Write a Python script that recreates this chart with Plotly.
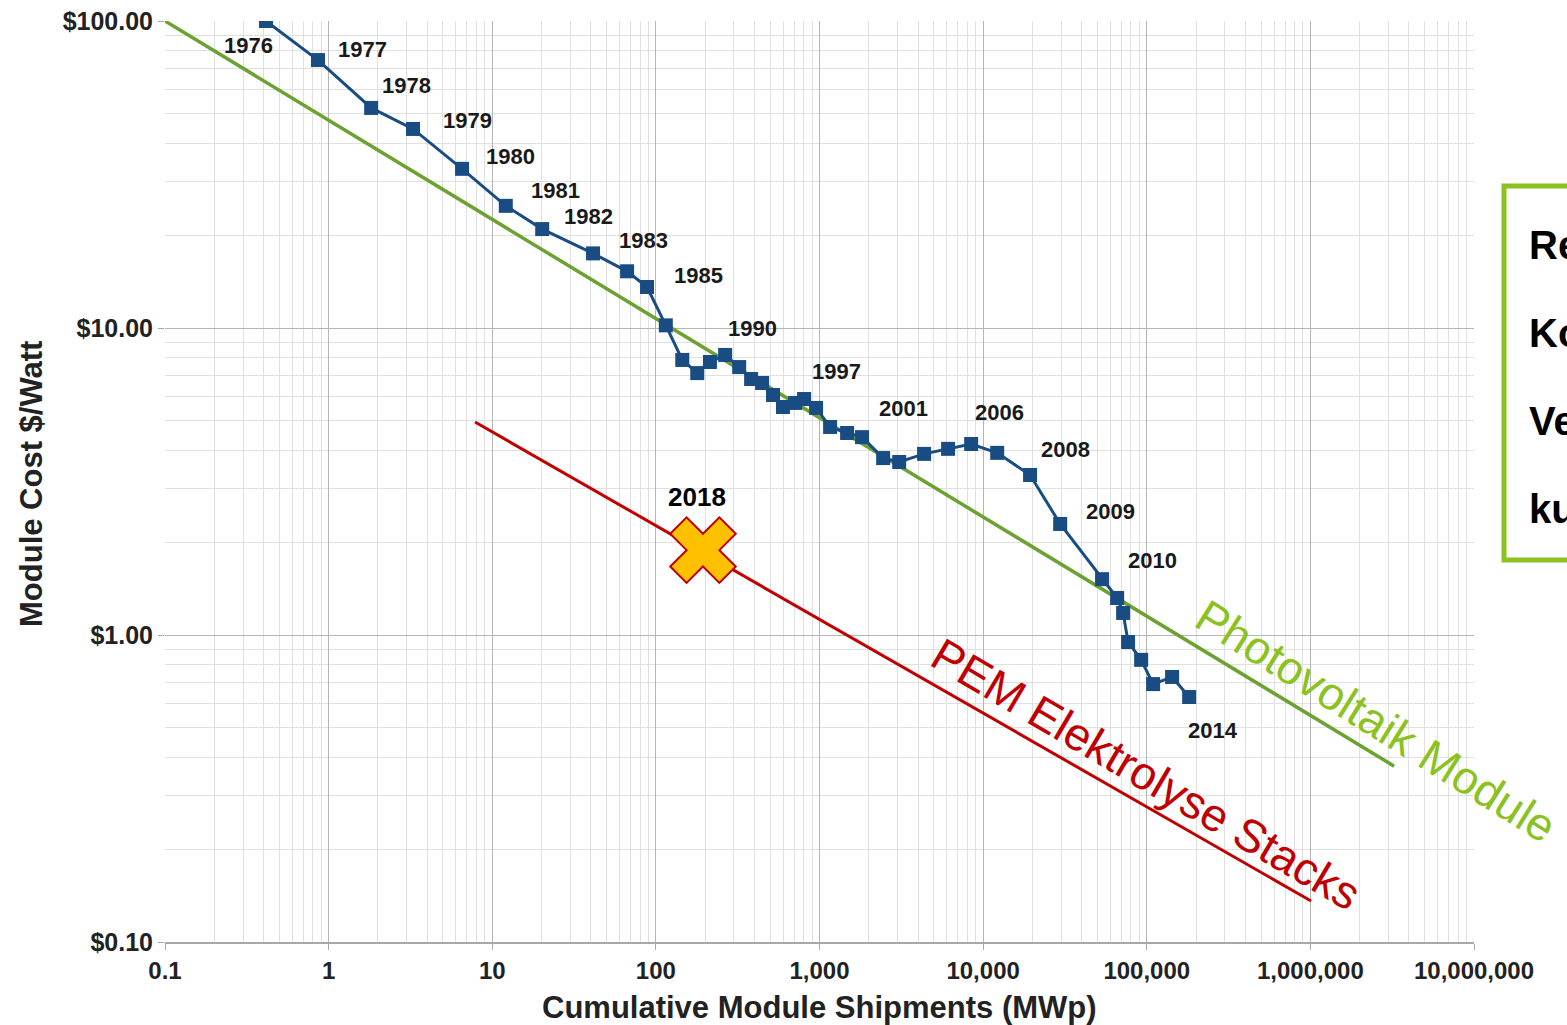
import numpy as np
import plotly.graph_objects as go

# ---------------- data ----------------
shipments_mw = [0.414, 0.861, 1.82, 3.28, 6.54, 12.1, 20.2, 41.3, 66.7, 88.3,
                115, 145, 179, 214, 265, 323, 382, 446, 520, 598,
                710, 805, 953, 1161, 1475, 1820, 2449, 3069, 4357, 6109,
                8450, 12190, 19360, 29580, 53330, 65920, 71720, 76900, 92420, 109400,
                142900, 181600]
cost_usd_w = [100, 74.6, 52.1, 44.5, 33.0, 25.0, 21.0, 17.5, 15.3, 13.6,
              10.2, 7.87, 7.13, 7.75, 8.17, 7.46, 6.82, 6.62, 6.05, 5.53,
              5.70, 5.87, 5.49, 4.76, 4.55, 4.41, 3.77, 3.66, 3.89, 4.04,
              4.19, 3.92, 3.32, 2.30, 1.52, 1.32, 1.18, 0.949, 0.830, 0.692,
              0.730, 0.628]

year_labels = ["1976", "1977", "1978", "1979", "1980", "1981", "1982", "1983", "1985",
               "1990", "1997", "2001", "2006", "2008", "2009", "2010", "2014"]
year_label_idx = [0, 1, 2, 3, 4, 5, 6, 7, 9, 14, 21, 25, 30, 32, 33, 34, 41]

pv_trend_x = [0.1, 3.25e6]
pv_trend_y = [100, 0.374]

pem_trend_x = [7.85, 1.01e6]
pem_trend_y = [4.94, 0.136]

pem_2018_x = [194]
pem_2018_y = [1.89]
pem_2018_label = "2018"

x_tickvals = [0.1, 1, 10, 100, 1000, 10000, 100000, 1000000, 10000000]
x_ticktext = ["0.1", "1", "10", "100", "1,000", "10,000", "100,000", "1,000,000", "10,000,000"]
y_tickvals = [0.1, 1, 10, 100]
y_ticktext = ["$0.10", "$1.00", "$10.00", "$100.00"]

box_lines = ["Re", "Ko", "Ve", "ku"]

# ---------------- styling / layout ----------------
W, H = 1567, 1025
ML, MR, MT, MB = 165, 93, 21, 83
PW, PH = W - ML - MR, H - MT - MB


def px_to_paper(px, py):
    return (px - ML) / PW, (H - MB - py) / PH


def minor_vals(e0, e1):
    return [k * 10.0 ** e for e in range(e0, e1) for k in range(2, 10)]


label_offsets = [(-17, -24), (45, 11), (35, 22), (54, 8), (48, 12), (50, 15), (46, 13),
                 (50, 13), (51, 12), (27, 26), (32, 28), (41, 29), (28, 31), (35, 26),
                 (50, 12), (50, 19), (24, -33)]

FONT = "Liberation Sans, Arial, sans-serif"
BLUE = "#184c83"
GREEN_LINE = "#6ca231"
LIME = "#8cc21f"
RED = "#c00000"

fig = go.Figure()

fig.add_trace(go.Scatter(x=pv_trend_x, y=pv_trend_y, mode="lines",
                         line=dict(color=GREEN_LINE, width=3.5), hoverinfo="skip"))
fig.add_trace(go.Scatter(x=pem_trend_x, y=pem_trend_y, mode="lines",
                         line=dict(color=RED, width=3), hoverinfo="skip"))
fig.add_trace(go.Scatter(x=shipments_mw, y=cost_usd_w, mode="lines+markers",
                         line=dict(color=BLUE, width=3),
                         marker=dict(symbol="square", size=14, color=BLUE)))
fig.add_trace(go.Scatter(x=pem_2018_x, y=pem_2018_y, mode="markers",
                         marker=dict(symbol="x", size=58, color="#ffc000",
                                     line=dict(color=RED, width=2))))

annotations = []
for lab, idx, (dx, dy) in zip(year_labels, year_label_idx, label_offsets):
    annotations.append(dict(x=np.log10(shipments_mw[idx]), y=np.log10(cost_usd_w[idx]),
                            xref="x", yref="y", text=lab, showarrow=False,
                            xshift=dx, yshift=dy,
                            font=dict(family=FONT, size=22, color="#1a1a1a", weight="bold")))

annotations.append(dict(x=np.log10(pem_2018_x[0]), y=np.log10(pem_2018_y[0]), xref="x", yref="y",
                        text=pem_2018_label, showarrow=False, xshift=-6, yshift=53,
                        font=dict(family=FONT, size=26, color="#000000", weight="bold")))

# rotated series texts
px_, py_ = px_to_paper(1376, 721)
annotations.append(dict(x=px_, y=py_, xref="paper", yref="paper", text="Photovoltaik Module",
                        showarrow=False, textangle=32, xanchor="center", yanchor="middle",
                        font=dict(family=FONT, size=46, color=LIME)))
px_, py_ = px_to_paper(1146, 774)
annotations.append(dict(x=px_, y=py_, xref="paper", yref="paper", text="PEM Elektrolyse Stacks",
                        showarrow=False, textangle=30.5, xanchor="center", yanchor="middle",
                        font=dict(family=FONT, size=46, color=RED)))

# axis titles
px_, py_ = px_to_paper(819, 1007)
annotations.append(dict(x=px_, y=py_, xref="paper", yref="paper",
                        text="Cumulative Module Shipments (MWp)", showarrow=False,
                        xanchor="center", yanchor="middle",
                        font=dict(family=FONT, size=31, color="#222222", weight="bold")))
px_, py_ = px_to_paper(31, 484)
annotations.append(dict(x=px_, y=py_, xref="paper", yref="paper",
                        text="Module Cost $/Watt", showarrow=False, textangle=-90,
                        xanchor="center", yanchor="middle",
                        font=dict(family=FONT, size=31, color="#222222", weight="bold")))

# box text (cut at the right edge as in the reference)
for i, t in enumerate(box_lines):
    px_, py_ = px_to_paper(1527, 245 + i * 88)
    annotations.append(dict(x=px_, y=py_, xref="paper", yref="paper", text=t,
                            showarrow=False, xanchor="left", yanchor="middle",
                            font=dict(family=FONT, size=40, color="#000000", weight="bold")))

bx0, by0 = px_to_paper(1504, 560)
bx1, by1 = px_to_paper(1640, 186)
shapes = [dict(type="rect", xref="paper", yref="paper", x0=bx0, x1=bx1, y0=by0, y1=by1,
               line=dict(color=LIME, width=5), fillcolor="white", layer="below")]

fig.update_layout(
    width=W, height=H,
    margin=dict(l=ML, r=MR, t=MT, b=MB, pad=0),
    paper_bgcolor="white", plot_bgcolor="white",
    showlegend=False,
    annotations=annotations,
    shapes=shapes,
    font=dict(family=FONT),
)

fig.update_xaxes(type="log", range=[-1, 7], tickvals=x_tickvals, ticktext=x_ticktext,
                 showgrid=True, gridcolor="#b5b5b5", gridwidth=1,
                 minor=dict(showgrid=True, gridcolor="#e0e0e0", gridwidth=1, ticks="",
                            tickmode="array", tickvals=minor_vals(-1, 7)),
                 showline=True, linecolor="#a8a8a8", linewidth=1.5,
                 ticks="outside", ticklen=6, tickcolor="#a8a8a8",
                 tickfont=dict(family=FONT, size=24, color="#222222", weight="bold"),
                 zeroline=False, automargin=False)
fig.update_yaxes(type="log", range=[-1, 2], tickvals=y_tickvals, ticktext=y_ticktext,
                 showgrid=True, gridcolor="#b5b5b5", gridwidth=1,
                 minor=dict(showgrid=True, gridcolor="#e0e0e0", gridwidth=1, ticks="",
                            tickmode="array", tickvals=minor_vals(-1, 2)),
                 showline=False,
                 ticks="outside", ticklen=6, tickcolor="#a8a8a8",
                 tickfont=dict(family=FONT, size=25, color="#222222", weight="bold"),
                 zeroline=False, automargin=False)

fig.write_html("out.html", post_script="document.body.style.margin='0';",
               config={"displayModeBar": False})
